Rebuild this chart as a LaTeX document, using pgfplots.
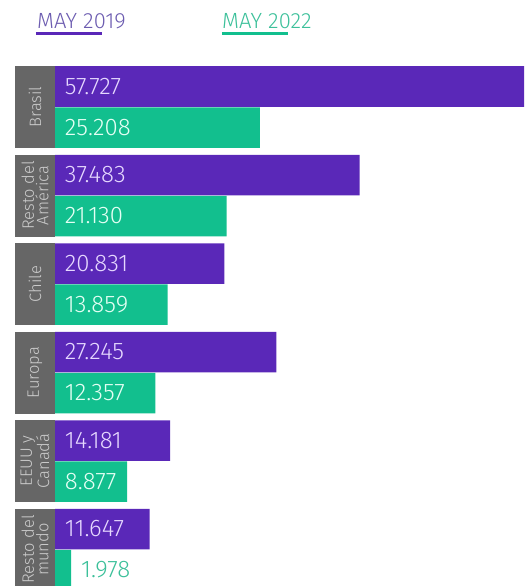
\documentclass[border=0pt]{standalone}
\usepackage{pgfplots}
\pgfplotsset{compat=1.18}
\usepackage{fontspec}
\setmainfont{Fira Sans}[UprightFont = * Light]
\definecolor{may19}{HTML}{5A28B8}
\definecolor{may22}{HTML}{12BF8E}
\definecolor{boxgray}{HTML}{666666}
\definecolor{lbl19}{HTML}{E6D8FF}
\definecolor{lbl22}{HTML}{E4FFF4}
\definecolor{leg19}{HTML}{6C5CB0}
\definecolor{leg22}{HTML}{3CC09A}

\begin{document}
\begin{tikzpicture}
  \begin{axis}[
      scale only axis, width=527pt, height=586pt,
      xmin=-6.769, xmax=58.09,
      ymin=0, ymax=586, y dir=reverse,
      axis lines=none, clip=true,
      xbar, bar width=40.5, bar shift=0pt,
    ]
    % keep the whole canvas as bounding box
    \path (axis cs:-6.769,0) rectangle (axis cs:58.09,586);
    % gray category boxes
    \foreach \t/\b in {66/148, 154.5/236.5, 243/325, 331.5/413.5, 420/502, 508.5/590.5} {
      \edef\tmp{\noexpand\fill[boxgray] (axis cs:-4.923,\t) rectangle (axis cs:0,\b);}
      \tmp
    }
    \addplot[draw=none, fill=may19] coordinates {
      (57.727,86.5) (37.483,175) (20.831,263.5) (27.245,352) (14.181,440.5) (11.647,529)};
    \addplot[draw=none, fill=may22] coordinates {
      (25.208,127.5) (21.130,216) (13.859,304.5) (12.357,393) (8.877,481.5) (1.978,570)};

    % value labels
    \begin{scope}[every node/.style={anchor=west, inner sep=0pt, font=\fontsize{24}{24}\selectfont}]
      \node[text=lbl19] at (axis cs:1.2,86.5) {57.727};
      \node[text=lbl22] at (axis cs:1.2,127.5) {25.208};
      \node[text=lbl19] at (axis cs:1.2,175) {37.483};
      \node[text=lbl22] at (axis cs:1.2,216) {21.130};
      \node[text=lbl19] at (axis cs:1.2,263.5) {20.831};
      \node[text=lbl22] at (axis cs:1.2,304.5) {13.859};
      \node[text=lbl19] at (axis cs:1.2,352) {27.245};
      \node[text=lbl22] at (axis cs:1.2,393) {12.357};
      \node[text=lbl19] at (axis cs:1.2,440.5) {14.181};
      \node[text=lbl22] at (axis cs:1.2,481.5) {8.877};
      \node[text=lbl19] at (axis cs:1.2,529) {11.647};
      \node[text=leg22] at (axis cs:3.2,570) {1.978};
    \end{scope}

    % category names
    \begin{scope}[every node/.style={rotate=90, align=center, inner sep=0pt, text=white!80!black,
        font=\fontsize{16.5}{14.5}\selectfont}]
      \node at (axis cs:-2.46,107) {Brasil};
      \node at (axis cs:-2.46,195.5) {Resto del\\América};
      \node at (axis cs:-2.46,284) {Chile};
      \node at (axis cs:-2.46,372.5) {Europa};
      \node at (axis cs:-2.46,461) {EEUU y\\Canadá};
      \node at (axis cs:-2.46,549.5) {Resto del\\mundo};
    \end{scope}

    % legend
    \node[anchor=base west, inner sep=0pt, text=leg19, font=\fontsize{22}{22}\selectfont] at (axis cs:-2.215,28.5) {MAY 2019};
    \node[anchor=base west, inner sep=0pt, text=leg22, font=\fontsize{22}{22}\selectfont] at (axis cs:20.55,28.5) {MAY 2022};
    \draw[may19, line width=2.4pt] (axis cs:-2.34,33.5) -- (axis cs:5.785,33.5);
    \draw[may22, line width=2.4pt] (axis cs:20.55,33.5) -- (axis cs:28.68,33.5);
  \end{axis}
\end{tikzpicture}
\end{document}
